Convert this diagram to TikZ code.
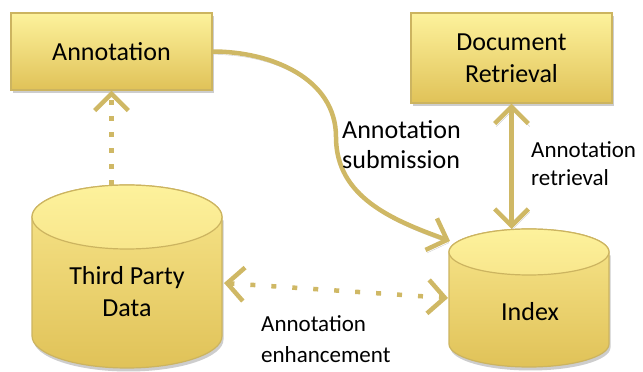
\documentclass[tikz,border=0pt]{standalone}
\usepackage{fontspec}
\setmainfont{Carlito}
\usetikzlibrary{arrows.meta,shadows}
\definecolor{gold}{RGB}{207,184,101}
\definecolor{boxtop}{RGB}{253,242,156}
\definecolor{boxbot}{RGB}{224,194,88}
\definecolor{lidbot}{RGB}{248,230,140}
\definecolor{edge}{RGB}{204,180,96}
\definecolor{shadowgray}{RGB}{205,205,205}
\newcommand\mycyl[5]{%
  \fill[shadowgray] ({#1-#4+1.5},{#2-3.5}) -- ({#1-#4+1.5},{#3-3.5}) arc[start angle=180,end angle=360,x radius=#4,y radius=#5] -- ({#1+#4+1.5},{#2-3.5}) -- cycle;
  \path[top color=lidbot,bottom color=boxbot,draw=edge,line width=1.2pt] ({#1-#4},#2) -- ({#1-#4},#3) arc[start angle=180,end angle=360,x radius=#4,y radius=#5] -- ({#1+#4},#2) arc[start angle=0,end angle=180,x radius=#4,y radius=#5] -- cycle;
  \path[draw=edge,line width=1.2pt,top color=boxtop,bottom color=lidbot] (#1,#2) ellipse[x radius=#4,y radius=#5];
}
\begin{document}
\begin{tikzpicture}[x=1pt,y=1pt,
  box/.style={draw=edge, line width=1.2pt, top color=boxtop, bottom color=boxbot,
    minimum width=201pt, align=center, font=\fontsize{26}{32}\selectfont,
    drop shadow={shadow xshift=1.5pt, shadow yshift=-3.5pt, fill=shadowgray, opacity=1}},
  cyltext/.style={align=center, font=\fontsize{26}{32}\selectfont},
  bounds/.style={inner sep=0pt, outer sep=0pt},
  connbase/.style={draw=gold, line width=4.5pt},
  conn/.style={connbase,
    preaction={draw=shadowgray, transform canvas={shift={(1.5pt,-3pt)}}}},
  tipend/.style={-{Straight Barb[scale=1.6]}},
  tipboth/.style={{Straight Barb[scale=1.6]}-{Straight Barb[scale=1.6]}},
  dotsh/.style={connbase, dash pattern=on 5pt off 16pt},
  dotsv/.style={connbase, dash pattern=on 5pt off 11pt},
  lab/.style={inner sep=0pt, align=left, font=\fontsize{26}{30}\selectfont},
  labs/.style={inner sep=0pt, align=left, font=\fontsize{23}{28}\selectfont}]
\useasboundingbox (0,0) rectangle (643,372);

% cylinders
\mycyl{127}{155}{36}{95}{32}
\mycyl{529}{120}{28}{80}{23}
\node[bounds, minimum width=190pt, minimum height=183pt] (tp) at (127,95.5) {};
\node[bounds, minimum width=160pt, minimum height=138pt] (idx) at (529,74) {};
\node[cyltext] (tpt) at (127,80) {Third Party\\Data};
\node[cyltext] (idxt) at (530,60) {Index};

% boxes
\node[box, minimum height=77pt] (ann) at (111.5,320.5) {Annotation};
\node[box, minimum height=90pt] (dr) at (511.5,314) {Document\\Retrieval};

% helper coordinates
\coordinate (bend) at (336,235);
\coordinate (idxin) at (450,131);
\coordinate (tpR) at (224,89);
\coordinate (idxL) at (448,74);

% connectors
\draw[conn,tipend] (ann.east) to[out=0,in=90] (bend) to[out=-90,in=160] (idxin);
\draw[conn,tipboth] (dr.south) -- (dr.south |- idx.north);
\draw[dotsv,tipend] (ann.south |- tp.north) -- (ann.south);
\draw[dotsh,tipboth] (tpR) -- (idxL);

% labels
\node[lab, anchor=west] (lsub) at (342,227) {Annotation\\submission};
\node[labs, anchor=west] (lret) at (531,208.5) {Annotation\\retrieval};
\node[labs, anchor=west, font=\fontsize{23}{31}\selectfont] (lenh) at (261,32.5) {Annotation\\enhancement};
\end{tikzpicture}
\end{document}
